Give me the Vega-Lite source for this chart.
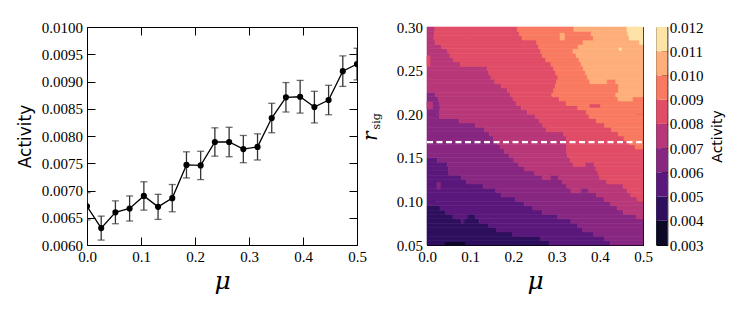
{
  "$schema": "https://vega.github.io/schema/vega-lite/v6.json",
  "autosize": {"type": "pad"},
  "padding": {"left": 16, "top": 19, "right": 5, "bottom": 5},
  "background": "white",
  "datasets": {
    "line": [
      {"mu": 0.0, "a": 0.00671, "lo": 0.00646, "hi": 0.00696},
      {"mu": 0.0263, "a": 0.00631, "lo": 0.00609, "hi": 0.00653},
      {"mu": 0.0526, "a": 0.0066, "lo": 0.00639, "hi": 0.00681},
      {"mu": 0.0789, "a": 0.00667, "lo": 0.00644, "hi": 0.0069},
      {"mu": 0.1053, "a": 0.0069, "lo": 0.00664, "hi": 0.00716},
      {"mu": 0.1316, "a": 0.0067, "lo": 0.00647, "hi": 0.00693},
      {"mu": 0.1579, "a": 0.00686, "lo": 0.00661, "hi": 0.00711},
      {"mu": 0.1842, "a": 0.00747, "lo": 0.00723, "hi": 0.00771},
      {"mu": 0.2105, "a": 0.00746, "lo": 0.0072, "hi": 0.00772},
      {"mu": 0.2368, "a": 0.00789, "lo": 0.00763, "hi": 0.00815},
      {"mu": 0.2632, "a": 0.00789, "lo": 0.00762, "hi": 0.00816},
      {"mu": 0.2895, "a": 0.00776, "lo": 0.00751, "hi": 0.00801},
      {"mu": 0.3158, "a": 0.0078, "lo": 0.00756, "hi": 0.00804},
      {"mu": 0.3421, "a": 0.00833, "lo": 0.00806, "hi": 0.0086},
      {"mu": 0.3684, "a": 0.00871, "lo": 0.00844, "hi": 0.00898},
      {"mu": 0.3947, "a": 0.00872, "lo": 0.00842, "hi": 0.00902},
      {"mu": 0.4211, "a": 0.00853, "lo": 0.00824, "hi": 0.00882},
      {"mu": 0.4474, "a": 0.00866, "lo": 0.00839, "hi": 0.00893},
      {"mu": 0.4737, "a": 0.00919, "lo": 0.00891, "hi": 0.00947},
      {"mu": 0.5, "a": 0.00932, "lo": 0.00903, "hi": 0.00961}
    ],
    "cont": [
      {"m0":0,"m1":0.284,"r0":0.05,"r1":0.055,"a":0.0045},
      {"m0":0.284,"m1":0.424,"r0":0.05,"r1":0.055,"a":0.0055},
      {"m0":0.424,"m1":0.5,"r0":0.05,"r1":0.055,"a":0.0065},
      {"m0":0,"m1":0.263,"r0":0.055,"r1":0.06,"a":0.0045},
      {"m0":0.263,"m1":0.411,"r0":0.055,"r1":0.06,"a":0.0055},
      {"m0":0.411,"m1":0.5,"r0":0.055,"r1":0.06,"a":0.0065},
      {"m0":0,"m1":0.198,"r0":0.06,"r1":0.065,"a":0.0045},
      {"m0":0.198,"m1":0.386,"r0":0.06,"r1":0.065,"a":0.0055},
      {"m0":0.386,"m1":0.5,"r0":0.06,"r1":0.065,"a":0.0065},
      {"m0":0,"m1":0.161,"r0":0.065,"r1":0.07,"a":0.0045},
      {"m0":0.161,"m1":0.36,"r0":0.065,"r1":0.07,"a":0.0055},
      {"m0":0.36,"m1":0.5,"r0":0.065,"r1":0.07,"a":0.0065},
      {"m0":0,"m1":0.143,"r0":0.07,"r1":0.075,"a":0.0045},
      {"m0":0.143,"m1":0.349,"r0":0.07,"r1":0.075,"a":0.0055},
      {"m0":0.349,"m1":0.5,"r0":0.07,"r1":0.075,"a":0.0065},
      {"m0":0,"m1":0.079,"r0":0.075,"r1":0.08,"a":0.0045},
      {"m0":0.079,"m1":0.086,"r0":0.075,"r1":0.08,"a":0.0055},
      {"m0":0.086,"m1":0.121,"r0":0.075,"r1":0.08,"a":0.0045},
      {"m0":0.121,"m1":0.333,"r0":0.075,"r1":0.08,"a":0.0055},
      {"m0":0.333,"m1":0.5,"r0":0.075,"r1":0.08,"a":0.0065},
      {"m0":0,"m1":0.06,"r0":0.08,"r1":0.085,"a":0.0045},
      {"m0":0.06,"m1":0.095,"r0":0.08,"r1":0.085,"a":0.0055},
      {"m0":0.095,"m1":0.112,"r0":0.08,"r1":0.085,"a":0.0045},
      {"m0":0.112,"m1":0.302,"r0":0.08,"r1":0.085,"a":0.0055},
      {"m0":0.302,"m1":0.485,"r0":0.08,"r1":0.085,"a":0.0065},
      {"m0":0.485,"m1":0.5,"r0":0.08,"r1":0.085,"a":0.0075},
      {"m0":0,"m1":0.043,"r0":0.085,"r1":0.09,"a":0.0045},
      {"m0":0.043,"m1":0.267,"r0":0.085,"r1":0.09,"a":0.0055},
      {"m0":0.267,"m1":0.454,"r0":0.085,"r1":0.09,"a":0.0065},
      {"m0":0.454,"m1":0.5,"r0":0.085,"r1":0.09,"a":0.0075},
      {"m0":0,"m1":0.03,"r0":0.09,"r1":0.095,"a":0.0045},
      {"m0":0.03,"m1":0.245,"r0":0.09,"r1":0.095,"a":0.0055},
      {"m0":0.245,"m1":0.44,"r0":0.09,"r1":0.095,"a":0.0065},
      {"m0":0.44,"m1":0.5,"r0":0.09,"r1":0.095,"a":0.0075},
      {"m0":0,"m1":0.225,"r0":0.095,"r1":0.1,"a":0.0055},
      {"m0":0.225,"m1":0.425,"r0":0.095,"r1":0.1,"a":0.0065},
      {"m0":0.425,"m1":0.5,"r0":0.095,"r1":0.1,"a":0.0075},
      {"m0":0,"m1":0.205,"r0":0.1,"r1":0.105,"a":0.0055},
      {"m0":0.205,"m1":0.41,"r0":0.1,"r1":0.105,"a":0.0065},
      {"m0":0.41,"m1":0.486,"r0":0.1,"r1":0.105,"a":0.0075},
      {"m0":0.486,"m1":0.5,"r0":0.1,"r1":0.105,"a":0.0085},
      {"m0":0,"m1":0.172,"r0":0.105,"r1":0.11,"a":0.0055},
      {"m0":0.172,"m1":0.392,"r0":0.105,"r1":0.11,"a":0.0065},
      {"m0":0.392,"m1":0.472,"r0":0.105,"r1":0.11,"a":0.0075},
      {"m0":0.472,"m1":0.5,"r0":0.105,"r1":0.11,"a":0.0085},
      {"m0":0,"m1":0.159,"r0":0.11,"r1":0.115,"a":0.0055},
      {"m0":0.159,"m1":0.333,"r0":0.11,"r1":0.115,"a":0.0065},
      {"m0":0.333,"m1":0.357,"r0":0.11,"r1":0.115,"a":0.0075},
      {"m0":0.357,"m1":0.374,"r0":0.11,"r1":0.115,"a":0.0065},
      {"m0":0.374,"m1":0.463,"r0":0.11,"r1":0.115,"a":0.0075},
      {"m0":0.463,"m1":0.5,"r0":0.11,"r1":0.115,"a":0.0085},
      {"m0":0,"m1":0.13,"r0":0.115,"r1":0.12,"a":0.0055},
      {"m0":0.13,"m1":0.323,"r0":0.115,"r1":0.12,"a":0.0065},
      {"m0":0.323,"m1":0.454,"r0":0.115,"r1":0.12,"a":0.0075},
      {"m0":0.454,"m1":0.5,"r0":0.115,"r1":0.12,"a":0.0085},
      {"m0":0,"m1":0.091,"r0":0.12,"r1":0.125,"a":0.0055},
      {"m0":0.091,"m1":0.314,"r0":0.12,"r1":0.125,"a":0.0065},
      {"m0":0.314,"m1":0.416,"r0":0.12,"r1":0.125,"a":0.0075},
      {"m0":0.416,"m1":0.5,"r0":0.12,"r1":0.125,"a":0.0085},
      {"m0":0,"m1":0.08,"r0":0.125,"r1":0.13,"a":0.0055},
      {"m0":0.08,"m1":0.267,"r0":0.125,"r1":0.13,"a":0.0065},
      {"m0":0.267,"m1":0.287,"r0":0.125,"r1":0.13,"a":0.0075},
      {"m0":0.287,"m1":0.304,"r0":0.125,"r1":0.13,"a":0.0065},
      {"m0":0.304,"m1":0.4,"r0":0.125,"r1":0.13,"a":0.0075},
      {"m0":0.4,"m1":0.5,"r0":0.125,"r1":0.13,"a":0.0085},
      {"m0":0,"m1":0.05,"r0":0.13,"r1":0.135,"a":0.0055},
      {"m0":0.05,"m1":0.249,"r0":0.13,"r1":0.135,"a":0.0065},
      {"m0":0.249,"m1":0.396,"r0":0.13,"r1":0.135,"a":0.0075},
      {"m0":0.396,"m1":0.5,"r0":0.13,"r1":0.135,"a":0.0085},
      {"m0":0,"m1":0.049,"r0":0.135,"r1":0.14,"a":0.0055},
      {"m0":0.049,"m1":0.226,"r0":0.135,"r1":0.14,"a":0.0065},
      {"m0":0.226,"m1":0.391,"r0":0.135,"r1":0.14,"a":0.0075},
      {"m0":0.391,"m1":0.5,"r0":0.135,"r1":0.14,"a":0.0085},
      {"m0":0,"m1":0.047,"r0":0.14,"r1":0.145,"a":0.0055},
      {"m0":0.047,"m1":0.212,"r0":0.14,"r1":0.145,"a":0.0065},
      {"m0":0.212,"m1":0.338,"r0":0.14,"r1":0.145,"a":0.0075},
      {"m0":0.338,"m1":0.368,"r0":0.14,"r1":0.145,"a":0.0085},
      {"m0":0.368,"m1":0.387,"r0":0.14,"r1":0.145,"a":0.0075},
      {"m0":0.387,"m1":0.5,"r0":0.14,"r1":0.145,"a":0.0085},
      {"m0":0,"m1":0.024,"r0":0.145,"r1":0.15,"a":0.0055},
      {"m0":0.024,"m1":0.201,"r0":0.145,"r1":0.15,"a":0.0065},
      {"m0":0.201,"m1":0.331,"r0":0.145,"r1":0.15,"a":0.0075},
      {"m0":0.331,"m1":0.5,"r0":0.145,"r1":0.15,"a":0.0085},
      {"m0":0,"m1":0.19,"r0":0.15,"r1":0.155,"a":0.0065},
      {"m0":0.19,"m1":0.325,"r0":0.15,"r1":0.155,"a":0.0075},
      {"m0":0.325,"m1":0.5,"r0":0.15,"r1":0.155,"a":0.0085},
      {"m0":0,"m1":0.179,"r0":0.155,"r1":0.16,"a":0.0065},
      {"m0":0.179,"m1":0.323,"r0":0.155,"r1":0.16,"a":0.0075},
      {"m0":0.323,"m1":0.5,"r0":0.155,"r1":0.16,"a":0.0085},
      {"m0":0,"m1":0.17,"r0":0.16,"r1":0.165,"a":0.0065},
      {"m0":0.17,"m1":0.323,"r0":0.16,"r1":0.165,"a":0.0075},
      {"m0":0.323,"m1":0.482,"r0":0.16,"r1":0.165,"a":0.0085},
      {"m0":0.482,"m1":0.5,"r0":0.16,"r1":0.165,"a":0.0095},
      {"m0":0,"m1":0.162,"r0":0.165,"r1":0.17,"a":0.0065},
      {"m0":0.162,"m1":0.323,"r0":0.165,"r1":0.17,"a":0.0075},
      {"m0":0.323,"m1":0.468,"r0":0.165,"r1":0.17,"a":0.0085},
      {"m0":0.468,"m1":0.5,"r0":0.165,"r1":0.17,"a":0.0095},
      {"m0":0,"m1":0.154,"r0":0.17,"r1":0.175,"a":0.0065},
      {"m0":0.154,"m1":0.323,"r0":0.17,"r1":0.175,"a":0.0075},
      {"m0":0.323,"m1":0.456,"r0":0.17,"r1":0.175,"a":0.0085},
      {"m0":0.456,"m1":0.5,"r0":0.17,"r1":0.175,"a":0.0095},
      {"m0":0,"m1":0.144,"r0":0.175,"r1":0.18,"a":0.0065},
      {"m0":0.144,"m1":0.316,"r0":0.175,"r1":0.18,"a":0.0075},
      {"m0":0.316,"m1":0.443,"r0":0.175,"r1":0.18,"a":0.0085},
      {"m0":0.443,"m1":0.5,"r0":0.175,"r1":0.18,"a":0.0095},
      {"m0":0,"m1":0.133,"r0":0.18,"r1":0.185,"a":0.0065},
      {"m0":0.133,"m1":0.276,"r0":0.18,"r1":0.185,"a":0.0075},
      {"m0":0.276,"m1":0.427,"r0":0.18,"r1":0.185,"a":0.0085},
      {"m0":0.427,"m1":0.5,"r0":0.18,"r1":0.185,"a":0.0095},
      {"m0":0,"m1":0.112,"r0":0.185,"r1":0.19,"a":0.0065},
      {"m0":0.112,"m1":0.268,"r0":0.185,"r1":0.19,"a":0.0075},
      {"m0":0.268,"m1":0.411,"r0":0.185,"r1":0.19,"a":0.0085},
      {"m0":0.411,"m1":0.5,"r0":0.185,"r1":0.19,"a":0.0095},
      {"m0":0,"m1":0.075,"r0":0.19,"r1":0.195,"a":0.0065},
      {"m0":0.075,"m1":0.261,"r0":0.19,"r1":0.195,"a":0.0075},
      {"m0":0.261,"m1":0.392,"r0":0.19,"r1":0.195,"a":0.0085},
      {"m0":0.392,"m1":0.5,"r0":0.19,"r1":0.195,"a":0.0095},
      {"m0":0,"m1":0.029,"r0":0.195,"r1":0.2,"a":0.0065},
      {"m0":0.029,"m1":0.25,"r0":0.195,"r1":0.2,"a":0.0075},
      {"m0":0.25,"m1":0.375,"r0":0.195,"r1":0.2,"a":0.0085},
      {"m0":0.375,"m1":0.5,"r0":0.195,"r1":0.2,"a":0.0095},
      {"m0":0,"m1":0.029,"r0":0.2,"r1":0.205,"a":0.0065},
      {"m0":0.029,"m1":0.232,"r0":0.2,"r1":0.205,"a":0.0075},
      {"m0":0.232,"m1":0.369,"r0":0.2,"r1":0.205,"a":0.0085},
      {"m0":0.369,"m1":0.5,"r0":0.2,"r1":0.205,"a":0.0095},
      {"m0":0,"m1":0.03,"r0":0.205,"r1":0.21,"a":0.0065},
      {"m0":0.03,"m1":0.218,"r0":0.205,"r1":0.21,"a":0.0075},
      {"m0":0.218,"m1":0.349,"r0":0.205,"r1":0.21,"a":0.0085},
      {"m0":0.349,"m1":0.5,"r0":0.205,"r1":0.21,"a":0.0095},
      {"m0":0,"m1":0.029,"r0":0.21,"r1":0.215,"a":0.0065},
      {"m0":0.029,"m1":0.206,"r0":0.21,"r1":0.215,"a":0.0075},
      {"m0":0.206,"m1":0.322,"r0":0.21,"r1":0.215,"a":0.0085},
      {"m0":0.322,"m1":0.5,"r0":0.21,"r1":0.215,"a":0.0095},
      {"m0":0,"m1":0.026,"r0":0.215,"r1":0.22,"a":0.0065},
      {"m0":0.026,"m1":0.199,"r0":0.215,"r1":0.22,"a":0.0075},
      {"m0":0.199,"m1":0.306,"r0":0.215,"r1":0.22,"a":0.0085},
      {"m0":0.306,"m1":0.442,"r0":0.215,"r1":0.22,"a":0.0095},
      {"m0":0.442,"m1":0.477,"r0":0.215,"r1":0.22,"a":0.0105},
      {"m0":0.477,"m1":0.5,"r0":0.215,"r1":0.22,"a":0.0095},
      {"m0":0,"m1":0.019,"r0":0.22,"r1":0.225,"a":0.0065},
      {"m0":0.019,"m1":0.193,"r0":0.22,"r1":0.225,"a":0.0075},
      {"m0":0.193,"m1":0.289,"r0":0.22,"r1":0.225,"a":0.0085},
      {"m0":0.289,"m1":0.437,"r0":0.22,"r1":0.225,"a":0.0095},
      {"m0":0.437,"m1":0.5,"r0":0.22,"r1":0.225,"a":0.0105},
      {"m0":0,"m1":0.186,"r0":0.225,"r1":0.23,"a":0.0075},
      {"m0":0.186,"m1":0.293,"r0":0.225,"r1":0.23,"a":0.0085},
      {"m0":0.293,"m1":0.443,"r0":0.225,"r1":0.23,"a":0.0095},
      {"m0":0.443,"m1":0.5,"r0":0.225,"r1":0.23,"a":0.0105},
      {"m0":0,"m1":0.172,"r0":0.23,"r1":0.235,"a":0.0075},
      {"m0":0.172,"m1":0.297,"r0":0.23,"r1":0.235,"a":0.0085},
      {"m0":0.297,"m1":0.444,"r0":0.23,"r1":0.235,"a":0.0095},
      {"m0":0.444,"m1":0.5,"r0":0.23,"r1":0.235,"a":0.0105},
      {"m0":0,"m1":0.157,"r0":0.235,"r1":0.24,"a":0.0075},
      {"m0":0.157,"m1":0.3,"r0":0.235,"r1":0.24,"a":0.0085},
      {"m0":0.3,"m1":0.377,"r0":0.235,"r1":0.24,"a":0.0095},
      {"m0":0.377,"m1":0.417,"r0":0.235,"r1":0.24,"a":0.0105},
      {"m0":0.417,"m1":0.437,"r0":0.235,"r1":0.24,"a":0.0095},
      {"m0":0.437,"m1":0.5,"r0":0.235,"r1":0.24,"a":0.0105},
      {"m0":0,"m1":0.148,"r0":0.24,"r1":0.245,"a":0.0075},
      {"m0":0.148,"m1":0.303,"r0":0.24,"r1":0.245,"a":0.0085},
      {"m0":0.303,"m1":0.372,"r0":0.24,"r1":0.245,"a":0.0095},
      {"m0":0.372,"m1":0.5,"r0":0.24,"r1":0.245,"a":0.0105},
      {"m0":0,"m1":0.143,"r0":0.245,"r1":0.25,"a":0.0075},
      {"m0":0.143,"m1":0.298,"r0":0.245,"r1":0.25,"a":0.0085},
      {"m0":0.298,"m1":0.367,"r0":0.245,"r1":0.25,"a":0.0095},
      {"m0":0.367,"m1":0.5,"r0":0.245,"r1":0.25,"a":0.0105},
      {"m0":0,"m1":0.139,"r0":0.25,"r1":0.255,"a":0.0075},
      {"m0":0.139,"m1":0.293,"r0":0.25,"r1":0.255,"a":0.0085},
      {"m0":0.293,"m1":0.362,"r0":0.25,"r1":0.255,"a":0.0095},
      {"m0":0.362,"m1":0.5,"r0":0.25,"r1":0.255,"a":0.0105},
      {"m0":0,"m1":0.077,"r0":0.255,"r1":0.26,"a":0.0075},
      {"m0":0.077,"m1":0.287,"r0":0.255,"r1":0.26,"a":0.0085},
      {"m0":0.287,"m1":0.357,"r0":0.255,"r1":0.26,"a":0.0095},
      {"m0":0.357,"m1":0.5,"r0":0.255,"r1":0.26,"a":0.0105},
      {"m0":0,"m1":0.061,"r0":0.26,"r1":0.265,"a":0.0075},
      {"m0":0.061,"m1":0.275,"r0":0.26,"r1":0.265,"a":0.0085},
      {"m0":0.275,"m1":0.352,"r0":0.26,"r1":0.265,"a":0.0095},
      {"m0":0.352,"m1":0.5,"r0":0.26,"r1":0.265,"a":0.0105},
      {"m0":0,"m1":0.053,"r0":0.265,"r1":0.27,"a":0.0075},
      {"m0":0.053,"m1":0.267,"r0":0.265,"r1":0.27,"a":0.0085},
      {"m0":0.267,"m1":0.345,"r0":0.265,"r1":0.27,"a":0.0095},
      {"m0":0.345,"m1":0.5,"r0":0.265,"r1":0.27,"a":0.0105},
      {"m0":0,"m1":0.048,"r0":0.27,"r1":0.275,"a":0.0075},
      {"m0":0.048,"m1":0.263,"r0":0.27,"r1":0.275,"a":0.0085},
      {"m0":0.263,"m1":0.338,"r0":0.27,"r1":0.275,"a":0.0095},
      {"m0":0.338,"m1":0.5,"r0":0.27,"r1":0.275,"a":0.0105},
      {"m0":0,"m1":0.034,"r0":0.275,"r1":0.28,"a":0.0075},
      {"m0":0.034,"m1":0.258,"r0":0.275,"r1":0.28,"a":0.0085},
      {"m0":0.258,"m1":0.35,"r0":0.275,"r1":0.28,"a":0.0095},
      {"m0":0.35,"m1":0.5,"r0":0.275,"r1":0.28,"a":0.0105},
      {"m0":0,"m1":0.019,"r0":0.28,"r1":0.285,"a":0.0075},
      {"m0":0.019,"m1":0.254,"r0":0.28,"r1":0.285,"a":0.0085},
      {"m0":0.254,"m1":0.361,"r0":0.28,"r1":0.285,"a":0.0095},
      {"m0":0.361,"m1":0.492,"r0":0.28,"r1":0.285,"a":0.0105},
      {"m0":0.492,"m1":0.5,"r0":0.28,"r1":0.285,"a":0.0115},
      {"m0":0,"m1":0.016,"r0":0.285,"r1":0.29,"a":0.0075},
      {"m0":0.016,"m1":0.22,"r0":0.285,"r1":0.29,"a":0.0085},
      {"m0":0.22,"m1":0.385,"r0":0.285,"r1":0.29,"a":0.0095},
      {"m0":0.385,"m1":0.468,"r0":0.285,"r1":0.29,"a":0.0105},
      {"m0":0.468,"m1":0.5,"r0":0.285,"r1":0.29,"a":0.0115},
      {"m0":0,"m1":0.017,"r0":0.29,"r1":0.295,"a":0.0075},
      {"m0":0.017,"m1":0.214,"r0":0.29,"r1":0.295,"a":0.0085},
      {"m0":0.214,"m1":0.38,"r0":0.29,"r1":0.295,"a":0.0095},
      {"m0":0.38,"m1":0.465,"r0":0.29,"r1":0.295,"a":0.0105},
      {"m0":0.465,"m1":0.5,"r0":0.29,"r1":0.295,"a":0.0115},
      {"m0":0,"m1":0.018,"r0":0.295,"r1":0.3,"a":0.0075},
      {"m0":0.018,"m1":0.209,"r0":0.295,"r1":0.3,"a":0.0085},
      {"m0":0.209,"m1":0.34,"r0":0.295,"r1":0.3,"a":0.0095},
      {"m0":0.34,"m1":0.463,"r0":0.295,"r1":0.3,"a":0.0105},
      {"m0":0.463,"m1":0.5,"r0":0.295,"r1":0.3,"a":0.0115},
      {"m0":0.042,"m1":0.088,"r0":0.05,"r1":0.053,"a":0.0035},
      {"m0":0.023,"m1":0.031,"r0":0.114,"r1":0.122,"a":0.0065},
      {"m0":0,"m1":0.013,"r0":0.206,"r1":0.214,"a":0.0075},
      {"m0":0,"m1":0.007,"r0":0.255,"r1":0.267,"a":0.0085},
      {"m0":0.308,"m1":0.318,"r0":0.285,"r1":0.293,"a":0.0105},
      {"m0":0.445,"m1":0.45,"r0":0.273,"r1":0.276,"a":0.0115},
      {"m0":0.377,"m1":0.4,"r0":0.208,"r1":0.211,"a":0.0085}
    ],
    "cbar": [
      {"lo": 0.003, "hi": 0.004, "a": 0.0035},
      {"lo": 0.004, "hi": 0.005, "a": 0.0045},
      {"lo": 0.005, "hi": 0.006, "a": 0.0055},
      {"lo": 0.006, "hi": 0.007, "a": 0.0065},
      {"lo": 0.007, "hi": 0.008, "a": 0.0075},
      {"lo": 0.008, "hi": 0.009, "a": 0.0085},
      {"lo": 0.009, "hi": 0.01, "a": 0.0095},
      {"lo": 0.01, "hi": 0.011, "a": 0.0105},
      {"lo": 0.011, "hi": 0.012, "a": 0.0115}
    ],
    "ref": [{"m0": 0, "m1": 0.5, "r": 0.168}]
  },
  "spacing": 70,
  "bounds": "flush",
  "hconcat": [
    {
      "width": 270,
      "height": 218,
      "data": {"name": "line"},
      "layer": [
        {
          "mark": {"type": "rule", "color": "#333333", "strokeWidth": 1.3, "clip": true},
          "encoding": {
            "x": {"field": "mu", "type": "quantitative", "scale": {"domain": [0, 0.5], "nice": false, "zero": false},
              "axis": {"orient": "bottom", "values": [0, 0.1, 0.2, 0.3, 0.4, 0.5], "format": ".1f", "title": "μ", "titleFont": "DejaVu Serif", "titleFontStyle": "italic", "titleFontSize": 25, "titleFontWeight": "normal", "titleColor": "black", "titleBaseline": "alphabetic", "titleY": 43}},
            "y": {"field": "lo", "type": "quantitative", "scale": {"domain": [0.006, 0.01], "nice": false, "zero": false},
              "axis": {"orient": "left", "values": [0.006, 0.0065, 0.007, 0.0075, 0.008, 0.0085, 0.009, 0.0095, 0.01], "format": ".4f", "title": "Activity", "titleFont": "DejaVu Sans", "titleFontSize": 17, "titleFontWeight": "normal", "titleColor": "black", "titleAngle": 270, "titleAlign": "center", "titleBaseline": "alphabetic", "titleX": -56.5, "titleY": 109}},
            "y2": {"field": "hi"}
          }
        },
        {
          "mark": {"type": "tick", "orient": "horizontal", "color": "#333333", "size": 7, "thickness": 1.3, "clip": true},
          "encoding": {"x": {"field": "mu", "type": "quantitative", "axis": null}, "y": {"field": "lo", "type": "quantitative", "axis": null}}
        },
        {
          "mark": {"type": "tick", "orient": "horizontal", "color": "#333333", "size": 7, "thickness": 1.3, "clip": true},
          "encoding": {"x": {"field": "mu", "type": "quantitative", "axis": null}, "y": {"field": "hi", "type": "quantitative", "axis": null}}
        },
        {
          "mark": {"type": "line", "color": "black", "strokeWidth": 1.3, "clip": true},
          "encoding": {"x": {"field": "mu", "type": "quantitative", "axis": null}, "y": {"field": "a", "type": "quantitative", "axis": null}}
        },
        {
          "mark": {"type": "point", "filled": true, "color": "black", "size": 38, "opacity": 1, "clip": true},
          "encoding": {
            "x": {"field": "mu", "type": "quantitative", "axis": {"orient": "top", "labels": false, "title": null, "values": [0, 0.1, 0.2, 0.3, 0.4, 0.5]}},
            "y": {"field": "a", "type": "quantitative", "axis": {"orient": "right", "labels": false, "title": null, "values": [0.006, 0.0065, 0.007, 0.0075, 0.008, 0.0085, 0.009, 0.0095, 0.01]}}
          }
        }
      ],
      "resolve": {"axis": {"x": "independent", "y": "independent"}}
    },
    {
      "spacing": 13.3,
      "bounds": "flush",
      "hconcat": [
        {
          "width": 216,
          "height": 218,
          "layer": [
            {
              "data": {"name": "cont"},
              "mark": {"type": "rect", "strokeWidth": 0.6},
              "encoding": {
                "x": {"field": "m0", "type": "quantitative", "scale": {"domain": [0, 0.5], "nice": false, "zero": false},
                  "axis": {"orient": "bottom", "values": [0, 0.1, 0.2, 0.3, 0.4, 0.5], "format": ".1f", "title": "μ", "titleFont": "DejaVu Serif", "titleFontStyle": "italic", "titleFontSize": 25, "titleFontWeight": "normal", "titleColor": "black", "titleBaseline": "alphabetic", "titleY": 43}},
                "x2": {"field": "m1"},
                "y": {"field": "r0", "type": "quantitative", "scale": {"domain": [0.05, 0.3], "nice": false, "zero": false},
                  "axis": {"orient": "left", "values": [0.05, 0.1, 0.15, 0.2, 0.25, 0.3], "format": ".2f", "title": "r", "titleFont": "DejaVu Serif", "titleFontStyle": "italic", "titleFontSize": 20, "titleFontWeight": "normal", "titleColor": "black", "titleAngle": 270, "titleAlign": "center", "titleBaseline": "alphabetic", "titleX": -50.7, "titleY": 108.8}},
                "y2": {"field": "r1"},
                "color": {"field": "a", "type": "quantitative", "legend": null,
                  "scale": {"type": "threshold", "domain": [0.004, 0.005, 0.006, 0.007, 0.008, 0.009, 0.01, 0.011], "range": ["#0c0926", "#2e0f5d", "#5b187c", "#882781", "#b73779", "#e14d67", "#f97a60", "#feaf79", "#fde3a6"]}},
                "stroke": {"field": "a", "type": "quantitative", "legend": null,
                  "scale": {"type": "threshold", "domain": [0.004, 0.005, 0.006, 0.007, 0.008, 0.009, 0.01, 0.011], "range": ["#0c0926", "#2e0f5d", "#5b187c", "#882781", "#b73779", "#e14d67", "#f97a60", "#feaf79", "#fde3a6"]}}
              }
            },
            {
              "data": {"name": "ref"},
              "mark": {"type": "rule", "color": "white", "strokeWidth": 2.3, "strokeDash": [6, 3.5]},
              "encoding": {
                "x": {"field": "m0", "type": "quantitative", "axis": {"orient": "top", "labels": false, "title": null, "values": [0, 0.1, 0.2, 0.3, 0.4, 0.5]}},
                "x2": {"field": "m1"},
                "y": {"field": "r", "type": "quantitative", "axis": {"orient": "right", "labels": false, "values": [0.05, 0.1, 0.15, 0.2, 0.25, 0.3], "title": "sig", "titleFont": "DejaVu Serif", "titleFontSize": 11, "titleFontWeight": "normal", "titleColor": "black", "titleAngle": 270, "titleAlign": "center", "titleBaseline": "alphabetic", "titleX": -263.4, "titleY": 93.8}}
              }
            }
          ],
          "resolve": {"axis": {"x": "independent", "y": "independent"}}
        },
        {
          "width": 11,
          "height": 218,
          "data": {"name": "cbar"},
          "mark": {"type": "rect"},
          "encoding": {
            "y": {"field": "lo", "type": "quantitative", "scale": {"domain": [0.003, 0.012], "nice": false, "zero": false},
              "axis": {"orient": "right", "values": [0.003, 0.004, 0.005, 0.006, 0.007, 0.008, 0.009, 0.01, 0.011, 0.012], "format": ".3f", "tickSize": -6, "labelPadding": 8, "title": "Activity", "titleFont": "DejaVu Sans", "titleFontSize": 14, "titleFontWeight": "normal", "titleColor": "black", "titleAngle": 270, "titleAlign": "center", "titleBaseline": "alphabetic", "titleX": 54, "titleY": 109}},
            "y2": {"field": "hi"},
            "color": {"field": "a", "type": "quantitative", "legend": null,
              "scale": {"type": "threshold", "domain": [0.004, 0.005, 0.006, 0.007, 0.008, 0.009, 0.01, 0.011], "range": ["#0c0926", "#2e0f5d", "#5b187c", "#882781", "#b73779", "#e14d67", "#f97a60", "#feaf79", "#fde3a6"]}}
          }
        }
      ]
    }
  ],
  "config": {
    "view": {"stroke": "black", "strokeWidth": 1},
    "axis": {"labelFont": "Liberation Serif", "labelFontSize": 15, "labelColor": "black", "tickColor": "black", "tickSize": -8, "tickWidth": 1, "labelPadding": 12.5, "domain": false, "grid": false, "labelFlush": false, "labelOverlap": false}
  }
}
